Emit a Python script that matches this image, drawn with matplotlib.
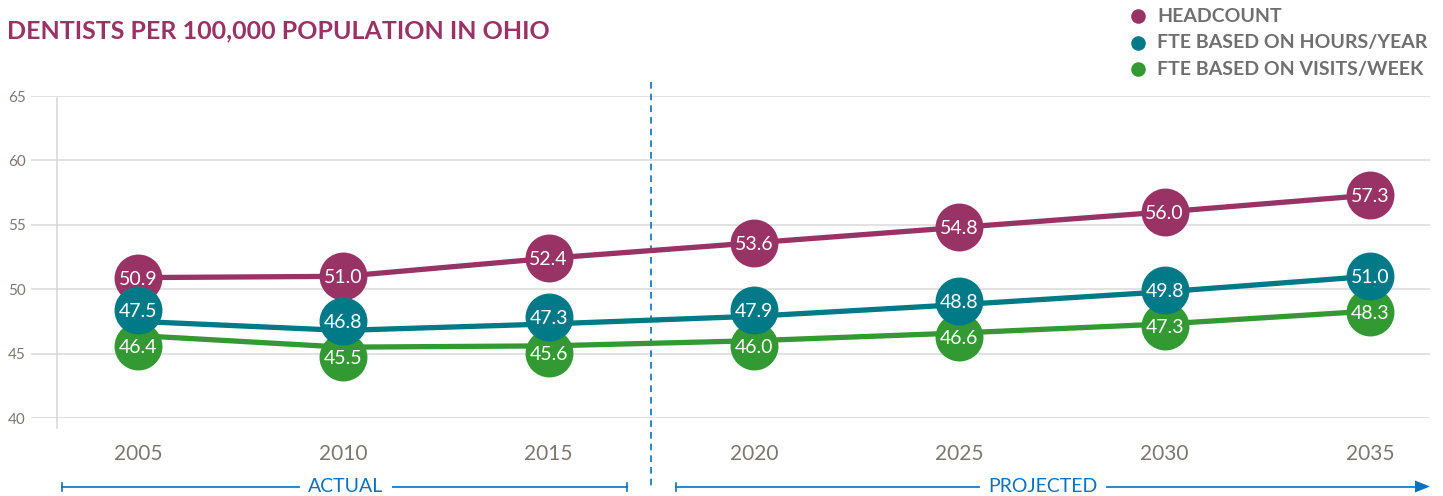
import matplotlib
matplotlib.use("Agg")
import matplotlib.pyplot as plt
import matplotlib.transforms as mtransforms
from matplotlib.lines import Line2D
from matplotlib.patches import Polygon

years = [2005, 2010, 2015, 2020, 2025, 2030, 2035]
headcount = [50.9, 51.0, 52.4, 53.6, 54.8, 56.0, 57.3]
fte_hours = [47.5, 46.8, 47.3, 47.9, 48.8, 49.8, 51.0]
fte_visits = [46.4, 45.5, 45.6, 46.0, 46.6, 47.3, 48.3]
y_ticks = [40, 45, 50, 55, 60, 65]

series_names = ["HEADCOUNT", "FTE BASED ON HOURS/YEAR", "FTE BASED ON VISITS/WEEK"]
C_HEAD = "#993366"
C_HOURS = "#007a87"
C_VISITS = "#339933"
C_GREY = "#7d776f"
C_BLUE = "#0a72bd"
FONT = "Lato"

W, H = 1443, 496
fig = plt.figure(figsize=(W / 100, H / 100), dpi=100)
ax = fig.add_axes([31 / W, (H - 418) / H, 1399 / W, 322 / H])
ax.set_xlim(2002.4, 2036.46)
ax.set_ylim(40, 65)
for s in ax.spines.values():
    s.set_visible(False)

# grid
for t in y_ticks:
    ax.axhline(t, color="#dadada", lw=1.1, zorder=0)
ax.plot([0.0186, 0.0186], [-0.03, 0.994], transform=ax.transAxes, color="#d6d6d6",
        lw=1.1, clip_on=False, zorder=0)

ax.set_yticks(y_ticks)
ax.set_yticklabels([str(t) for t in y_ticks], fontfamily=FONT, fontsize=11, color=C_GREY)
ax.set_xticks(years)
ax.set_xticklabels([str(y) for y in years], fontfamily=FONT, fontsize=15, color=C_GREY)
ax.tick_params(axis="both", length=0)
ax.tick_params(axis="y", pad=4)
ax.tick_params(axis="x", pad=19)

# actual / projected divider
split_x = (years[2] + years[3]) / 2
trans_v = mtransforms.blended_transform_factory(ax.transData, ax.transAxes)
ax.plot([split_x, split_x], [1.043, -0.224], transform=trans_v, color=C_BLUE,
        lw=1.2, ls=(0, (4, 3)), clip_on=False, zorder=1)

# push overlapping markers apart (pixels)
fig.canvas.draw()
ppu = ax.transData.transform((0, 1))[1] - ax.transData.transform((0, 0))[1]
min_sep = 36
nudge_hours, nudge_visits = [], []
for a, b in zip(fte_hours, fte_visits):
    gap = (a - b) * ppu
    push = max(0, (min_sep - gap) / 2)
    nudge_hours.append(push)
    nudge_visits.append(-push)
nudge_head = [0] * len(years)

for vals, color, nudges in [(fte_visits, C_VISITS, nudge_visits),
                            (headcount, C_HEAD, nudge_head),
                            (fte_hours, C_HOURS, nudge_hours)]:
    ax.plot(years, vals, color=color, lw=3.8, solid_capstyle="round", zorder=2)
    for x, v, dy in zip(years, vals, nudges):
        tr = mtransforms.offset_copy(ax.transData, fig=fig, x=0, y=dy, units="dots")
        ax.plot([x], [v], "o", ms=34.5, color=color, mec="none", transform=tr,
                clip_on=False, zorder=3)
        ax.text(x, v, f"{v:.1f}", transform=tr, ha="center", va="center_baseline",
                color="white", fontsize=14, fontfamily=FONT, zorder=4)

# title
fig.text(7 / W, 1 - 31 / H, "DENTISTS PER 100,000 POPULATION IN OHIO", ha="left",
         va="center", fontsize=18, fontweight="bold", color=C_HEAD, fontfamily=FONT)

# legend
for i, (name, color) in enumerate(zip(series_names, [C_HEAD, C_HOURS, C_VISITS])):
    yy = 1 - (16 + 26.5 * i) / H
    fig.add_artist(Line2D([1137.5 / W], [yy], marker="o", ms=10.5, color=color,
                          mec="none", transform=fig.transFigure))
    fig.text(1157 / W, yy, name, ha="left", va="center", fontsize=14,
             fontweight="bold", color="#6f6f6f", fontfamily=FONT)

# actual / projected bands
yb = (H - 486.5) / H
fig.add_artist(Line2D([62 / W, 627 / W], [yb, yb], color=C_BLUE, lw=1.2,
                      transform=fig.transFigure))
for xx in (62, 627, 676):
    fig.add_artist(Line2D([xx / W, xx / W], [yb - 4 / H, yb + 4 / H], color=C_BLUE,
                          lw=1.2, transform=fig.transFigure))
fig.add_artist(Line2D([676 / W, 1418 / W], [yb, yb], color=C_BLUE, lw=1.2,
                      transform=fig.transFigure))
fig.add_artist(Polygon([[1415 / W, yb + 6 / H], [1430 / W, yb], [1415 / W, yb - 6 / H]],
                       closed=True, facecolor=C_BLUE, edgecolor="none",
                       transform=fig.transFigure))
for xx, label in [(346, "ACTUAL"), (1043, "PROJECTED")]:
    fig.text(xx / W, yb, label, ha="center", va="center", fontsize=14, color=C_BLUE,
             fontfamily=FONT,
             bbox=dict(facecolor="white", edgecolor="none", pad=6))

fig.savefig("out.png", dpi=100)
